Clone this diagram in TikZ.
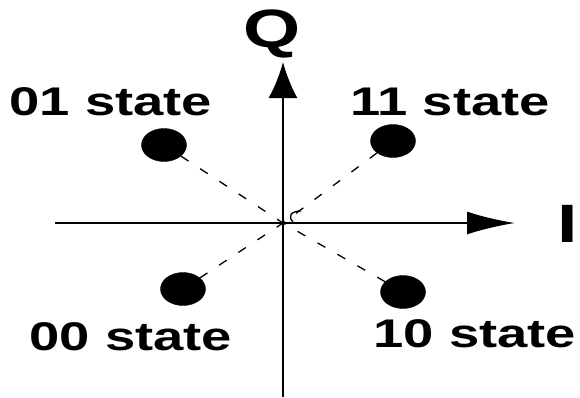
\documentclass[tikz,border=0pt]{standalone}
\usepackage{fontspec}
\setmainfont{Liberation Sans}
\usepackage{graphicx}
\usetikzlibrary{shapes.geometric, arrows.meta}

\newcommand{\widetext}[1]{\scalebox{1.36}[1]{#1}}

\begin{document}
\begin{tikzpicture}[x=1pt, y=-1pt, >=Latex,
    statedot/.style={draw, fill=black, ellipse, minimum width=45pt, minimum height=33pt, inner sep=0pt},
    statelbl/.style={anchor=base, inner sep=0pt, font=\fontsize{40}{40}\selectfont\bfseries},
    axislbl/.style={anchor=base, inner sep=0pt, font=\fontsize{54}{54}\selectfont\bfseries}]
				\useasboundingbox (0,0) rectangle (580,397);
				% axes
				\coordinate (o) at (283,223);
				\coordinate (ileft) at (55,223);
				\coordinate (iend) at (515,223);
				\coordinate (qbot) at (283,397);
				\coordinate (qend) at (283,62);
				\draw[line width=2.2pt, -{Latex[length=48pt, width=23pt]}] (ileft) -- (iend);
				\draw[line width=2.2pt, -{Latex[length=36pt, width=29pt]}] (qbot) -- (qend);
				\node[axislbl] (q) at (272,47) {\widetext{Q}};
				\node[axislbl] (i) at (568,242) {\widetext{I}};
				
				% states
				\node[statedot] (s01) at (164,145) {};
				\node[statedot] (s11) at (393,141) {};
				\node[statedot] (s00) at (183,289) {};
				\node[statedot] (s10) at (403,292) {};
				\node[statelbl] (l01) at (111,115) {\widetext{01 state}};
				\node[statelbl] (l11) at (450,115) {\widetext{11 state}};
				\node[statelbl] (l00) at (131,350) {\widetext{00 state}};
				\node[statelbl] (l10) at (475,347) {\widetext{10 state}};
				
				\foreach \s in {s01, s11, s00, s10}
					\draw[line width=1.3pt, dash pattern=on 9pt off 14pt] (\s) -- (o);
				\draw[line width=1.3pt] (293,222) .. controls (288,217) and (290,211) .. (301,211);
			\end{tikzpicture}
\end{document}
